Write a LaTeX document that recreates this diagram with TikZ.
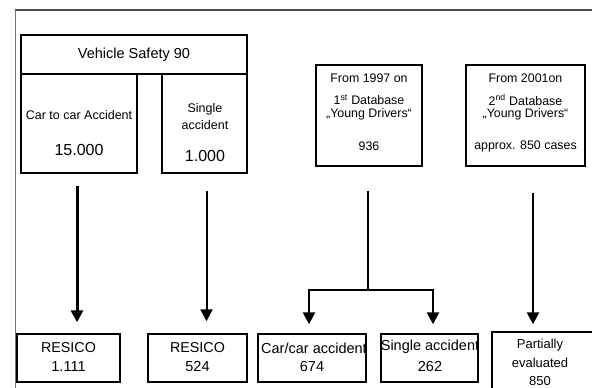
\documentclass[tikz,border=0pt]{standalone}
\usepackage{fontspec}
\setmainfont{Liberation Sans}
\usetikzlibrary{arrows.meta}
\newcommand\myfs[1]{\fontsize{#1}{#1}\selectfont}
\begin{document}
\begin{tikzpicture}[x=1pt,y=-1pt,
  boxs/.style={draw=black, line width=1.4pt, inner sep=0pt},
  lbl/.style={inner sep=0pt, align=center},
  arr/.style={-{Triangle[length=12pt,width=12pt]}, line width=#1},
  framestyle/.style={line width=#1}]
\clip (0,0) rectangle (592,388);
\fill[white] (0,0) rectangle (592,388);
% frame
\draw[framestyle=2pt, black!70] (15,9.5) -- (592,9.5);
\draw[framestyle=1pt, black!55] (15.5,9.5) -- (15.5,388);
% top boxes
\node[boxs, minimum width=226pt, minimum height=39pt, font=\myfs{14.5}] (vs) at (134,54.5) {Vehicle Safety 90};
\node[boxs, minimum width=116pt, minimum height=99pt] (cc) at (79,123.5) {};
\node[boxs, minimum width=85pt, minimum height=99pt] (sa) at (204.5,123.5) {};
\node[boxs, minimum width=106pt, minimum height=101pt] (db1) at (369,115.5) {};
\node[boxs, minimum width=119pt, minimum height=101pt] (db2) at (525.5,115.5) {};
% top texts
\node[lbl, font=\myfs{12.5}] (cct) at (79,115) {Car to car Accident};
\node[lbl, font=\myfs{16}] (ccn) at (79,150) {15.000};
\node[lbl, font=\fontsize{12.5}{17}\selectfont] (sat) at (205,116.5) {Single\\accident};
\node[lbl, font=\myfs{16}] (san) at (205,156) {1.000};
\node[lbl, font=\myfs{12.4}] (d1a) at (369,78) {From 1997 on};
\node[lbl, font=\myfs{12.4}] (d1b) at (369,100) {1\textsuperscript{st} Database};
\node[lbl, font=\myfs{12.4}] (d1c) at (369,114.5) {„Young Drivers“};
\node[lbl, font=\myfs{12.4}] (d1d) at (369,146) {936};
\node[lbl, font=\myfs{12.4}] (d2a) at (525.5,78) {From 2001on};
\node[lbl, font=\myfs{12.4}] (d2b) at (525.5,100) {2\textsuperscript{nd} Database};
\node[lbl, font=\myfs{12.4}] (d2c) at (525.5,114.5) {„Young Drivers“};
\node[lbl, font=\myfs{12.4}] (d2d) at (525.5,146) {approx. 850 cases};
% bottom boxes
\node[boxs, minimum width=103pt, minimum height=48pt] (r1) at (68.5,358) {};
\node[boxs, minimum width=99pt, minimum height=48pt] (r2) at (197.5,358) {};
\node[boxs, minimum width=108pt, minimum height=48pt] (r3) at (312,358) {};
\node[boxs, minimum width=97pt, minimum height=48pt] (r4) at (429.5,358) {};
\node[boxs, minimum width=108pt, minimum height=68pt] (r5) at (546,366) {};
% bottom texts
\node[lbl, font=\myfs{14.3}] (r1a) at (68.5,348) {RESICO};
\node[lbl, font=\myfs{14.5}] (r1b) at (68.5,367) {1.111};
\node[lbl, font=\myfs{14.3}] (r2a) at (197.5,348) {RESICO};
\node[lbl, font=\myfs{14.5}] (r2b) at (197.5,367) {524};
\node[lbl, font=\myfs{14.5}] (r3a) at (314,348) {Car/car accident};
\node[lbl, font=\myfs{14.5}] (r3b) at (312,367) {674};
\node[lbl, font=\myfs{14.5}] (r4a) at (430,347) {Single accident};
\node[lbl, font=\myfs{14.5}] (r4b) at (430,367) {262};
\node[lbl, font=\myfs{13}] (r5a) at (540,345) {Partially};
\node[lbl, font=\myfs{13}] (r5b) at (540,363) {evaluated};
\node[lbl, font=\myfs{13}] (r5c) at (540,381) {850};
% connectors
\draw[arr=3pt] ([shift={(-2,12)}]cc.south) -- ([shift={(8.5,-11)}]r1.north);
\draw[arr=2pt] ([shift={(2,17)}]sa.south) -- ([shift={(9,-12)}]r2.north);
\draw[line width=2.4pt] ([shift={(-1,24)}]db1.south) -- ++(0,99) coordinate (bj);
\coordinate (t3) at ([shift={(-3,-9)}]r3.north);
\coordinate (t4) at ([shift={(3.5,-9)}]r4.north);
\draw[arr=2.4pt] (bj) -| (t3);
\draw[arr=2.4pt] (bj) -| (t4);
\draw[arr=2.4pt] ([shift={(7.5,26)}]db2.south) -- ([shift={(-13,-7)}]r5.north);
\end{tikzpicture}
\end{document}
